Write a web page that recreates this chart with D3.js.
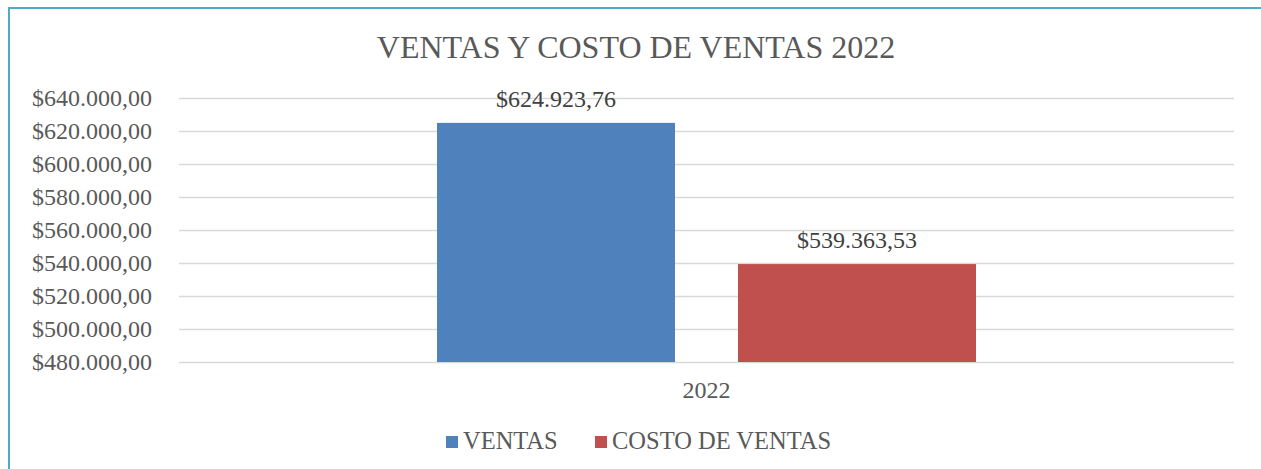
<!DOCTYPE html>
<html><head><meta charset="utf-8">
<script src="https://cdn.jsdelivr.net/npm/d3@7/dist/d3.min.js"></script>
<style>body{margin:0;background:#fff;overflow:hidden}svg{display:block}</style>
</head><body>
<svg id="c" width="1261" height="469"></svg>
<script>
const categories = ["2022"];
const seriesNames = ["VENTAS", "COSTO DE VENTAS"];
const seriesValues = [624923.76, 539363.53];
const seriesColors = ["#4F81BD", "#C0504D"];
const yTicks = [480000, 500000, 520000, 540000, 560000, 580000, 600000, 620000, 640000];
const title = "VENTAS Y COSTO DE VENTAS 2022";

const font = "'Liberation Serif','Times New Roman',serif";
const svg = d3.select("#c");
const m = {left: 179, right: 1234, top: 98, bottom: 362};

svg.append("path").attr("d", "M9,469V8H1261")
  .attr("fill", "none").attr("stroke", "#4BACC6").attr("stroke-width", 2);

const fmtNum = d3.formatLocale({decimal: ",", thousands: ".", grouping: [3], currency: ["$", ""]}).format("$,.2f");

const y = d3.scaleLinear().domain([480000, 640000]).range([m.bottom, m.top]);
const x0 = d3.scaleBand().domain(categories).range([m.left, m.right]).paddingInner(0).paddingOuter(0.4787);
const x1 = d3.scaleBand().domain(seriesNames).range([0, x0.bandwidth()]).paddingInner(0.2093).paddingOuter(0);

// gridlines
const yAxis = d3.axisLeft(y).tickValues(yTicks).tickFormat(fmtNum).tickSize(-(m.right - m.left)).tickPadding(27);
const ga = svg.append("g").attr("transform", `translate(${m.left},0)`).call(yAxis);
ga.select(".domain").remove();
ga.selectAll(".tick line").attr("stroke", "#D9D9D9").attr("stroke-width", 1.5);
ga.selectAll(".tick text").attr("fill", "#595959").attr("font-family", font).attr("font-size", 24).attr("dy", "0.33em");

// bars
const g = svg.append("g");
const data = seriesNames.map((s, i) => ({cat: categories[0], name: s, value: seriesValues[i], color: seriesColors[i]}));
g.selectAll("rect.bar").data(data).join("rect")
  .attr("x", d => x0(d.cat) + x1(d.name))
  .attr("y", d => y(d.value))
  .attr("width", x1.bandwidth())
  .attr("height", d => y(480000) - y(d.value))
  .attr("fill", d => d.color);

g.selectAll("text.lbl").data(data).join("text")
  .attr("x", d => x0(d.cat) + x1(d.name) + x1.bandwidth() / 2)
  .attr("y", d => y(d.value) - 16)
  .attr("text-anchor", "middle")
  .attr("fill", "#404040").attr("font-family", font).attr("font-size", 24)
  .text(d => fmtNum(d.value));

// x axis labels
const xAxis = d3.axisBottom(x0).tickSize(0).tickPadding(19);
const gx = svg.append("g").attr("transform", `translate(0,${m.bottom})`).call(xAxis);
gx.select(".domain").remove();
gx.selectAll(".tick text").attr("fill", "#595959").attr("font-family", font).attr("font-size", 24);

// title
svg.append("text").attr("x", 636).attr("y", 58).attr("text-anchor", "middle")
  .attr("fill", "#595959").attr("font-family", font).attr("font-size", 32).text(title);

// legend
const legX = [446, 595];
const lg = svg.append("g");
seriesNames.forEach((s, i) => {
  lg.append("rect").attr("x", legX[i]).attr("y", 436).attr("width", 12).attr("height", 12).attr("fill", seriesColors[i]);
  lg.append("text").attr("x", legX[i] + 17).attr("y", 449).attr("fill", "#595959")
    .attr("font-family", font).attr("font-size", 24.5).text(s);
});
</script>
</body></html>
